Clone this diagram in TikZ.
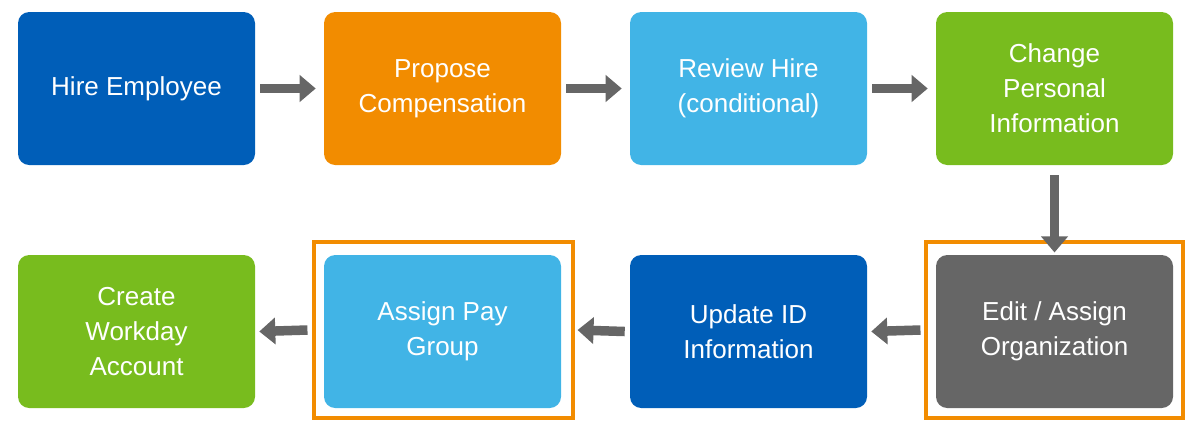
\documentclass[tikz,border=0pt]{standalone}
\usepackage{fontspec}
\setmainfont{Liberation Sans}
\usetikzlibrary{arrows.meta}
\definecolor{dblue}{HTML}{005EB8}
\definecolor{orng}{HTML}{F28C00}
\definecolor{lblue}{HTML}{41B4E6}
\definecolor{grn}{HTML}{78BC1E}
\definecolor{dgray}{HTML}{666666}
\begin{document}
\begin{tikzpicture}[x=0.025cm,y=-0.025cm,
 box/.style={rounded corners=8pt,minimum width=237*0.025cm,minimum height=153*0.025cm,text=white,align=center,font=\fontsize{18.5}{25}\selectfont,inner sep=0pt},
 arr/.style={draw=dgray,line width=9.5*0.025cm,-{Triangle[length=16*0.025cm,width=26*0.025cm]}},
 hl/.style={draw=orng,line width=2.2pt}]
\useasboundingbox (0,0) rectangle (1200,436);
\node[box,fill=dblue] (a) at (136.5,88.5) {Hire Employee};
\node[box,fill=orng] (b) at (442.5,88.5) {Propose\\Compensation};
\node[box,fill=lblue] (c) at (748.5,88.5) {Review Hire\\(conditional)};
\node[box,fill=grn] (d) at (1054.5,88.5) {Change\\Personal\\Information};
\node[box,fill=dgray] (e) at (1054.5,331.5) {Edit / Assign\\Organization};
\node[box,fill=dblue] (f) at (748.5,331.5) {Update ID\\Information};
\node[box,fill=lblue] (g) at (442.5,331.5) {Assign Pay\\Group};
\node[box,fill=grn] (h) at (136.5,331.5) {Create\\Workday\\Account};
\node[hl,minimum width=259*0.025cm,minimum height=176*0.025cm] (ge) at (443.5,330) {};
\node[hl,minimum width=257*0.025cm,minimum height=176*0.025cm] (ee) at (1054.5,330) {};
\draw[arr] ([xshift=5*0.025cm]a.east) -- ([xshift=-8*0.025cm]b.west);
\draw[arr] ([xshift=5*0.025cm]b.east) -- ([xshift=-8*0.025cm]c.west);
\draw[arr] ([xshift=5*0.025cm]c.east) -- ([xshift=-8*0.025cm]d.west);
\draw[arr] ([yshift=-10*0.025cm]d.south) -- ([yshift=-12*0.025cm]ee.north);
\draw[arr] ([xshift=-4*0.025cm]ee.west) -- ([xshift=4*0.025cm]f.east);
\draw[arr] ([xshift=-5*0.025cm]f.west) -- ([xshift=3*0.025cm]ge.east);
\draw[arr] ([xshift=-5*0.025cm]ge.west) -- ([xshift=4*0.025cm]h.east);
\end{tikzpicture}
\end{document}
